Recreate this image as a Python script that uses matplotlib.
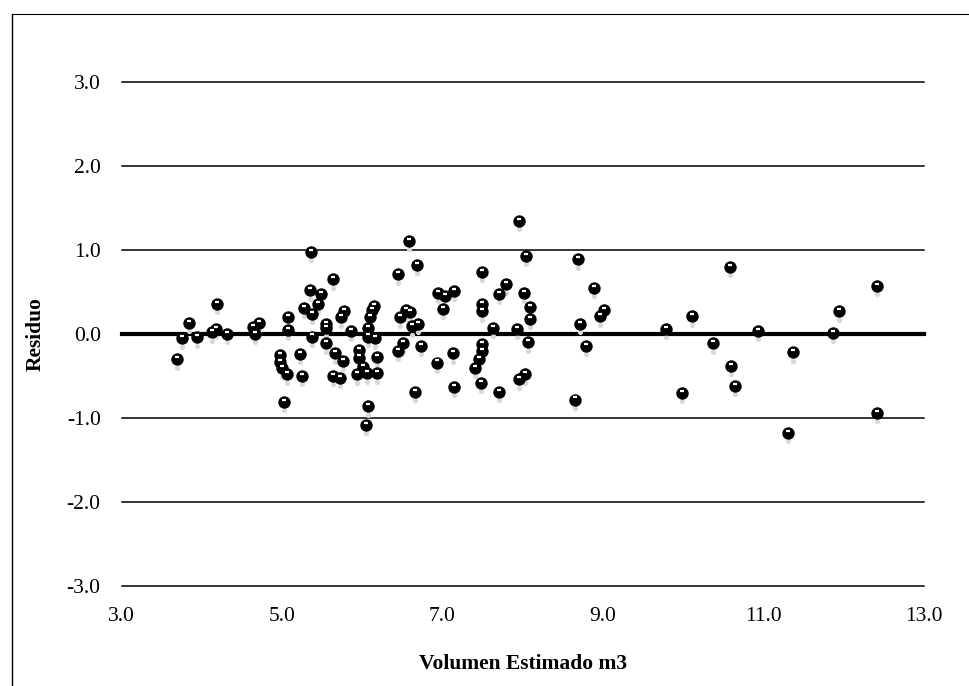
import numpy as np
import matplotlib
matplotlib.use("Agg")
import matplotlib.pyplot as plt
from matplotlib.transforms import ScaledTranslation
from matplotlib.lines import Line2D

# data ------------------------------------------------ data
volumen = [3.69, 3.75, 3.84, 3.94, 4.13, 4.18, 4.19, 4.31, 4.64, 4.66,
           4.71, 4.97, 4.98, 5.00, 5.06, 5.03, 5.07, 5.08, 5.22, 5.25,
           5.27, 5.35, 5.36, 5.37, 5.38, 5.45, 5.49, 5.55, 5.55, 5.55,
           5.63, 5.64, 5.66, 5.72, 5.73, 5.76, 5.77, 5.86, 5.93, 5.96,
           5.96, 6.01, 6.05, 6.06, 6.07, 6.07, 6.07, 6.10, 6.12, 6.15,
           6.16, 6.18, 6.18, 6.45, 6.45, 6.47, 6.51, 6.54, 6.58, 6.59,
           6.62, 6.66, 6.68, 6.70, 6.73, 6.93, 6.94, 7.01, 7.03, 7.13,
           7.14, 7.14, 7.41, 7.46, 7.48, 7.49, 7.49, 7.49, 7.49, 7.49,
           7.63, 7.70, 7.71, 7.79, 7.93, 7.95, 7.95, 8.01, 8.03, 8.04,
           8.06, 8.09, 8.09, 8.65, 8.69, 8.71, 8.79, 8.89, 8.96, 9.01,
           9.79, 9.98, 10.11, 10.37, 10.58, 10.59, 10.65, 10.93, 11.31, 11.37,
           11.87, 11.94, 12.41, 12.42]
residuo = [-0.30, -0.05, 0.13, -0.04, 0.02, 0.06, 0.36, 0.00, 0.08, 0.00,
           0.13, -0.25, -0.33, -0.41, -0.48, -0.81, 0.20, 0.05, -0.24, -0.50,
           0.31, 0.52, 0.98, 0.24, -0.03, 0.36, 0.48, 0.12, 0.07, -0.11,
           0.65, -0.50, -0.23, -0.52, 0.20, -0.32, 0.27, 0.04, -0.48, -0.19,
           -0.28, -0.39, -1.08, -0.47, -0.86, 0.07, -0.03, 0.20, 0.29, 0.33,
           -0.05, -0.27, -0.47, 0.71, -0.20, 0.20, -0.11, 0.28, 1.11, 0.26,
           0.09, -0.69, 0.82, 0.12, -0.14, -0.34, 0.49, 0.30, 0.45, -0.23,
           0.51, -0.63, -0.40, -0.30, -0.58, 0.74, 0.36, 0.27, -0.12, -0.20,
           0.07, 0.48, -0.69, 0.59, 0.06, -0.54, 1.35, 0.49, -0.48, 0.93,
           -0.10, 0.32, 0.18, -0.78, 0.89, 0.12, -0.14, 0.55, 0.21, 0.29,
           0.06, -0.70, 0.21, -0.11, 0.80, -0.38, -0.62, 0.04, -1.18, -0.22,
           0.01, 0.27, 0.57, -0.94]

x_ticks = [3.0, 5.0, 7.0, 9.0, 11.0, 13.0]
y_ticks = [-3.0, -2.0, -1.0, 0.0, 1.0, 2.0, 3.0]

# figure -------------------------------------------------------------------- figure
plt.rcParams['font.family'] = ['Liberation Serif', 'DejaVu Serif']

fig = plt.figure(figsize=(9.69, 6.86), dpi=100)
ax = fig.add_axes([121.5 / 969, 1 - 586 / 686, (924 - 121.5) / 969, (586 - 82) / 686])

# horizontal gridlines, zero line thick
for yv in y_ticks:
    if yv == 0.0:
        ax.axhline(yv, color='black', lw=3.0, zorder=1, clip_on=False)
    else:
        ax.axhline(yv, color='black', lw=1.1, zorder=1, clip_on=False)

# faint shadow, black balls, white highlight
shadow = ax.transData + ScaledTranslation(0, -6 / 72, fig.dpi_scale_trans)
ax.scatter(volumen, residuo, s=14, color='#d8d8d8', transform=shadow,
           zorder=2, linewidths=0)
ax.scatter(volumen, residuo, s=80, color='black', zorder=3, linewidths=0)
hi = ax.transData + ScaledTranslation(0, 1.5 / 72, fig.dpi_scale_trans)
ax.scatter(volumen, residuo, s=6, marker='_', color='white', transform=hi,
           zorder=4, linewidths=1.6)

ax.set_xlim(3.0, 13.0)
ax.set_ylim(-3.0, 3.0)
ax.set_xticks(x_ticks)
ax.set_yticks(y_ticks)
ax.set_xticklabels([f'{v:.1f}' for v in x_ticks])
ax.set_yticklabels([f'{v:.1f}' for v in y_ticks])
ax.tick_params(length=0, labelsize=15.5, pad=15)
for s in ax.spines.values():
    s.set_visible(False)

ax.set_xlabel('Volumen Estimado m3', fontsize=15.5, fontweight='bold')
ax.set_ylabel('Residuo', fontsize=15.5, fontweight='bold')
ax.xaxis.set_label_coords(0.5, -0.135)
ax.yaxis.set_label_coords(-0.095, 0.5)

# outer frame (left and top edges only visible)
fig.add_artist(Line2D([12 / 969, 12 / 969], [0, 1 - 14 / 686], color='black', lw=1.0))
fig.add_artist(Line2D([12 / 969, 1], [1 - 14 / 686, 1 - 14 / 686], color='black', lw=0.8))

fig.savefig('out.png', dpi=100)
